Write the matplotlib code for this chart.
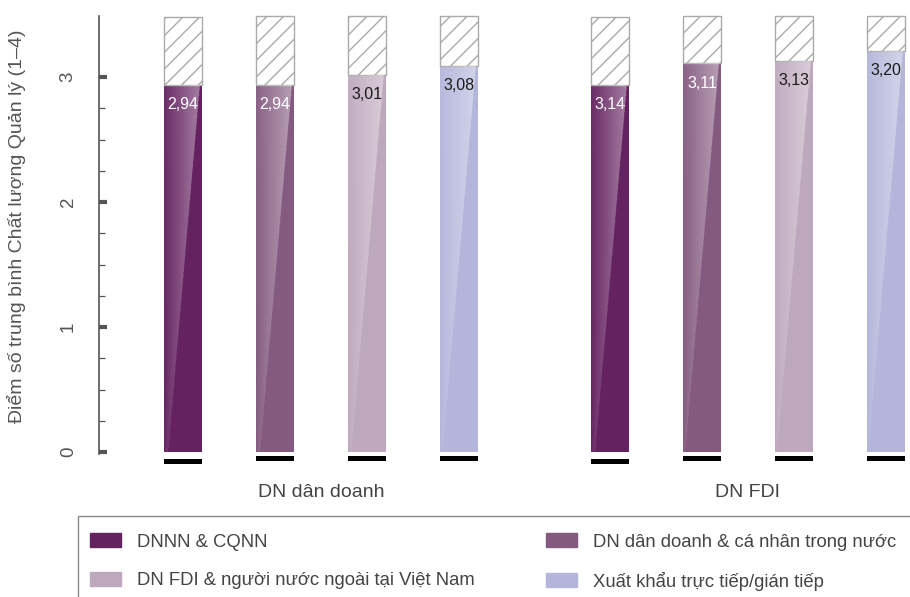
import numpy as np
import matplotlib
matplotlib.use("Agg")
import matplotlib.pyplot as plt
from matplotlib.patches import Patch, Rectangle
from matplotlib.ticker import FixedLocator

plt.rcParams['font.family'] = ['Liberation Sans', 'DejaVu Sans']
plt.rcParams['hatch.linewidth'] = 1.0

# %% data
groups = ["DN dân doanh", "DN FDI"]
series = ["DNNN & CQNN", "DN dân doanh & cá nhân trong nước",
          "DN FDI & người nước ngoài tại Việt Nam", "Xuất khẩu trực tiếp/gián tiếp"]
colors = ["#642260", "#845a80", "#bea8bd", "#b3b6da"]
label_colors = ["white", "white", "#1a1a1a", "#1a1a1a"]

# printed values
labels_dn = [2.94, 2.94, 3.01, 3.08]
labels_fdi = [3.14, 3.11, 3.13, 3.20]
# heights as drawn (the 3,14 bar sits at the 2,94 level in the original)
heights_dn = [2.94, 2.94, 3.02, 3.09]
heights_fdi = [2.94, 3.11, 3.13, 3.21]
# top of the hatched box
top_dn = [3.48, 3.49, 3.49, 3.49]
top_fdi = [3.48, 3.49, 3.49, 3.49]
# black marks under the bars (bottom)
mark_dn = [-0.096, -0.072, -0.072, -0.072]
mark_fdi = [-0.096, -0.072, -0.072, -0.072]

labels = [labels_dn, labels_fdi]
heights = [heights_dn, heights_fdi]
tops = [top_dn, top_fdi]
marks = [mark_dn, mark_fdi]

group_gap = 4.64
bar_w = 0.413


def shine(ax, patch, x0, w, top):
    ny, nx = 300, 80
    xf = np.linspace(0, 1, nx)[None, :]
    yf = np.linspace(0, top, ny)[:, None]
    depth = (top - yf) / 2.96
    edge = 0.95 - 0.85 * depth
    alpha = np.where(xf < edge, (0.05 + 0.36 * xf / edge) * (1 - 0.75 * depth), 0)
    img = np.ones((ny, nx, 4))
    img[..., 3] = np.clip(alpha, 0, 1)
    im = ax.imshow(img, extent=[x0, x0 + w, 0, top], origin='lower',
                   aspect='auto', zorder=2.5)
    im.set_clip_path(patch)


fig = plt.figure(figsize=(9.1, 5.97), dpi=100)
ax = fig.add_axes([99 / 910, 130 / 597, 811 / 910, 459 / 597])

for g in range(len(groups)):
    for i in range(len(series)):
        x = g * group_gap + i
        h = heights[g][i]
        b = ax.bar(x, h, width=bar_w, color=colors[i], zorder=2)[0]
        shine(ax, b, x - bar_w / 2, bar_w, h)
        ax.bar(x, tops[g][i] - h, bottom=h, width=bar_w, color='white',
               edgecolor='#aaaaaa', hatch='//', lw=1, zorder=2)
        ax.bar(x, 0.038, bottom=marks[g][i], width=bar_w, color='black', zorder=2)
        ax.annotate(f"{labels[g][i]:.2f}".replace('.', ','), (x, h),
                    xytext=(0, -14.5), textcoords='offset points',
                    ha='center', va='center', fontsize=11.5,
                    color=label_colors[i], zorder=3)

ax.set_xlim(-0.913, 7.902)
ax.set_ylim(-0.12, 3.552)

for s in ['top', 'right', 'bottom']:
    ax.spines[s].set_visible(False)
ax.spines['left'].set_color('#555555')
ax.spines['left'].set_linewidth(1.2)
ax.spines['left'].set_bounds(-0.016, 3.488)

ax.set_yticks([0, 1, 2, 3])
ax.set_yticklabels(['0', '1', '2', '3'], rotation=90, va='center')
ax.yaxis.set_minor_locator(FixedLocator([v for v in np.arange(0.25, 3, 0.25) if v % 1]))
ax.tick_params(axis='y', which='major', direction='in', length=6, width=3,
               color='#555555', labelsize=13.5, labelcolor='#555555', pad=16)
ax.tick_params(axis='y', which='minor', direction='in', length=4, width=0.9,
               color='#555555')

ax.set_xticks([g * group_gap + 1.5 for g in range(len(groups))])
ax.set_xticklabels(groups)
ax.tick_params(axis='x', length=0, labelsize=14, labelcolor='#444444', pad=12.5)

fig.text(17 / 910, 1 - 226 / 597, "Điểm số trung bình Chất lượng Quản lý (1–4)",
         rotation=90, ha='center', va='center', fontsize=14, color='#555555')

handles = [Patch(color=c) for c in colors]
order = [0, 2, 1, 3]
fig.legend([handles[k] for k in order], [series[k] for k in order], ncol=2,
           loc='upper left', bbox_to_anchor=(90 / 910, 1 - 533 / 597),
           frameon=False, fontsize=13.3, handlelength=1.68, handleheight=0.81,
           handletextpad=0.87, columnspacing=3.85, labelspacing=1.15,
           borderpad=0, borderaxespad=0, labelcolor='#444444')
fig.add_artist(Rectangle((78 / 910, -0.1), 1.0, 0.1 + 81 / 597,
                         transform=fig.transFigure, fill=False,
                         edgecolor='#8a8a8a', lw=1))

fig.savefig("out.png", dpi=100)
